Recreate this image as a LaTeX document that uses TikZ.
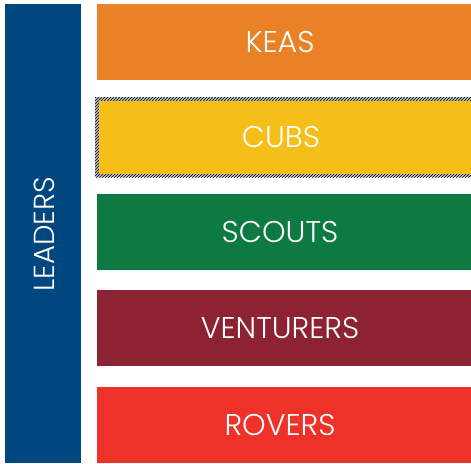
\documentclass[tikz,border=0pt]{standalone}
\usepackage{fontspec}
\newfontfamily\sectfont{Poppins Light}
\usetikzlibrary{patterns}
\definecolor{leaderblue}{RGB}{0,70,127}
\definecolor{keaorange}{RGB}{235,129,38}
\definecolor{cubyellow}{RGB}{246,190,24}
\definecolor{scoutgreen}{RGB}{14,122,67}
\definecolor{venturermaroon}{RGB}{140,34,50}
\definecolor{roverred}{RGB}{238,49,41}
\tikzstyle{section}=[draw=none, inner sep=0pt, outer sep=0pt, anchor=north west,
    minimum width=374pt, minimum height=76pt, text=white,
    execute at begin node={\hspace*{-8pt}},
    font=\sectfont\fontsize{30}{36}\selectfont]
\tikzstyle{leaders}=[section, minimum width=76pt, minimum height=459pt]
\begin{document}
\begin{tikzpicture}[x=1pt, y=-1pt]
    \useasboundingbox (0,0) rectangle (471,463);
    % leaders bar on the left
    \node[leaders, fill=leaderblue] (leaders) at (5,4) {};
    \node[rotate=90, text=white, font=\sectfont\fontsize{29}{34}\selectfont] (leaderstext) at ([xshift=1pt, yshift=-1pt]leaders.center) {LEADERS};
    % sections
    \node[section, fill=keaorange, minimum height=75.5pt] (keas) at (97,4) {KEAS};
    \fill[gray!50] (95,97) rectangle (471,177);
    \fill[pattern=north east lines, pattern color=black] (95,97) rectangle (471,177);
    \node[section, fill=cubyellow, minimum width=372pt, minimum height=73pt] (cubs) at (99,100.5) {CUBS};
    \node[section, fill=scoutgreen] (scouts) at (97,193.5) {SCOUTS};
    \node[section, fill=venturermaroon, minimum height=76.5pt] (venturers) at (97,289.5) {VENTURERS};
    \node[section, fill=roverred] (rovers) at (97,387) {ROVERS};
\end{tikzpicture}
\end{document}
